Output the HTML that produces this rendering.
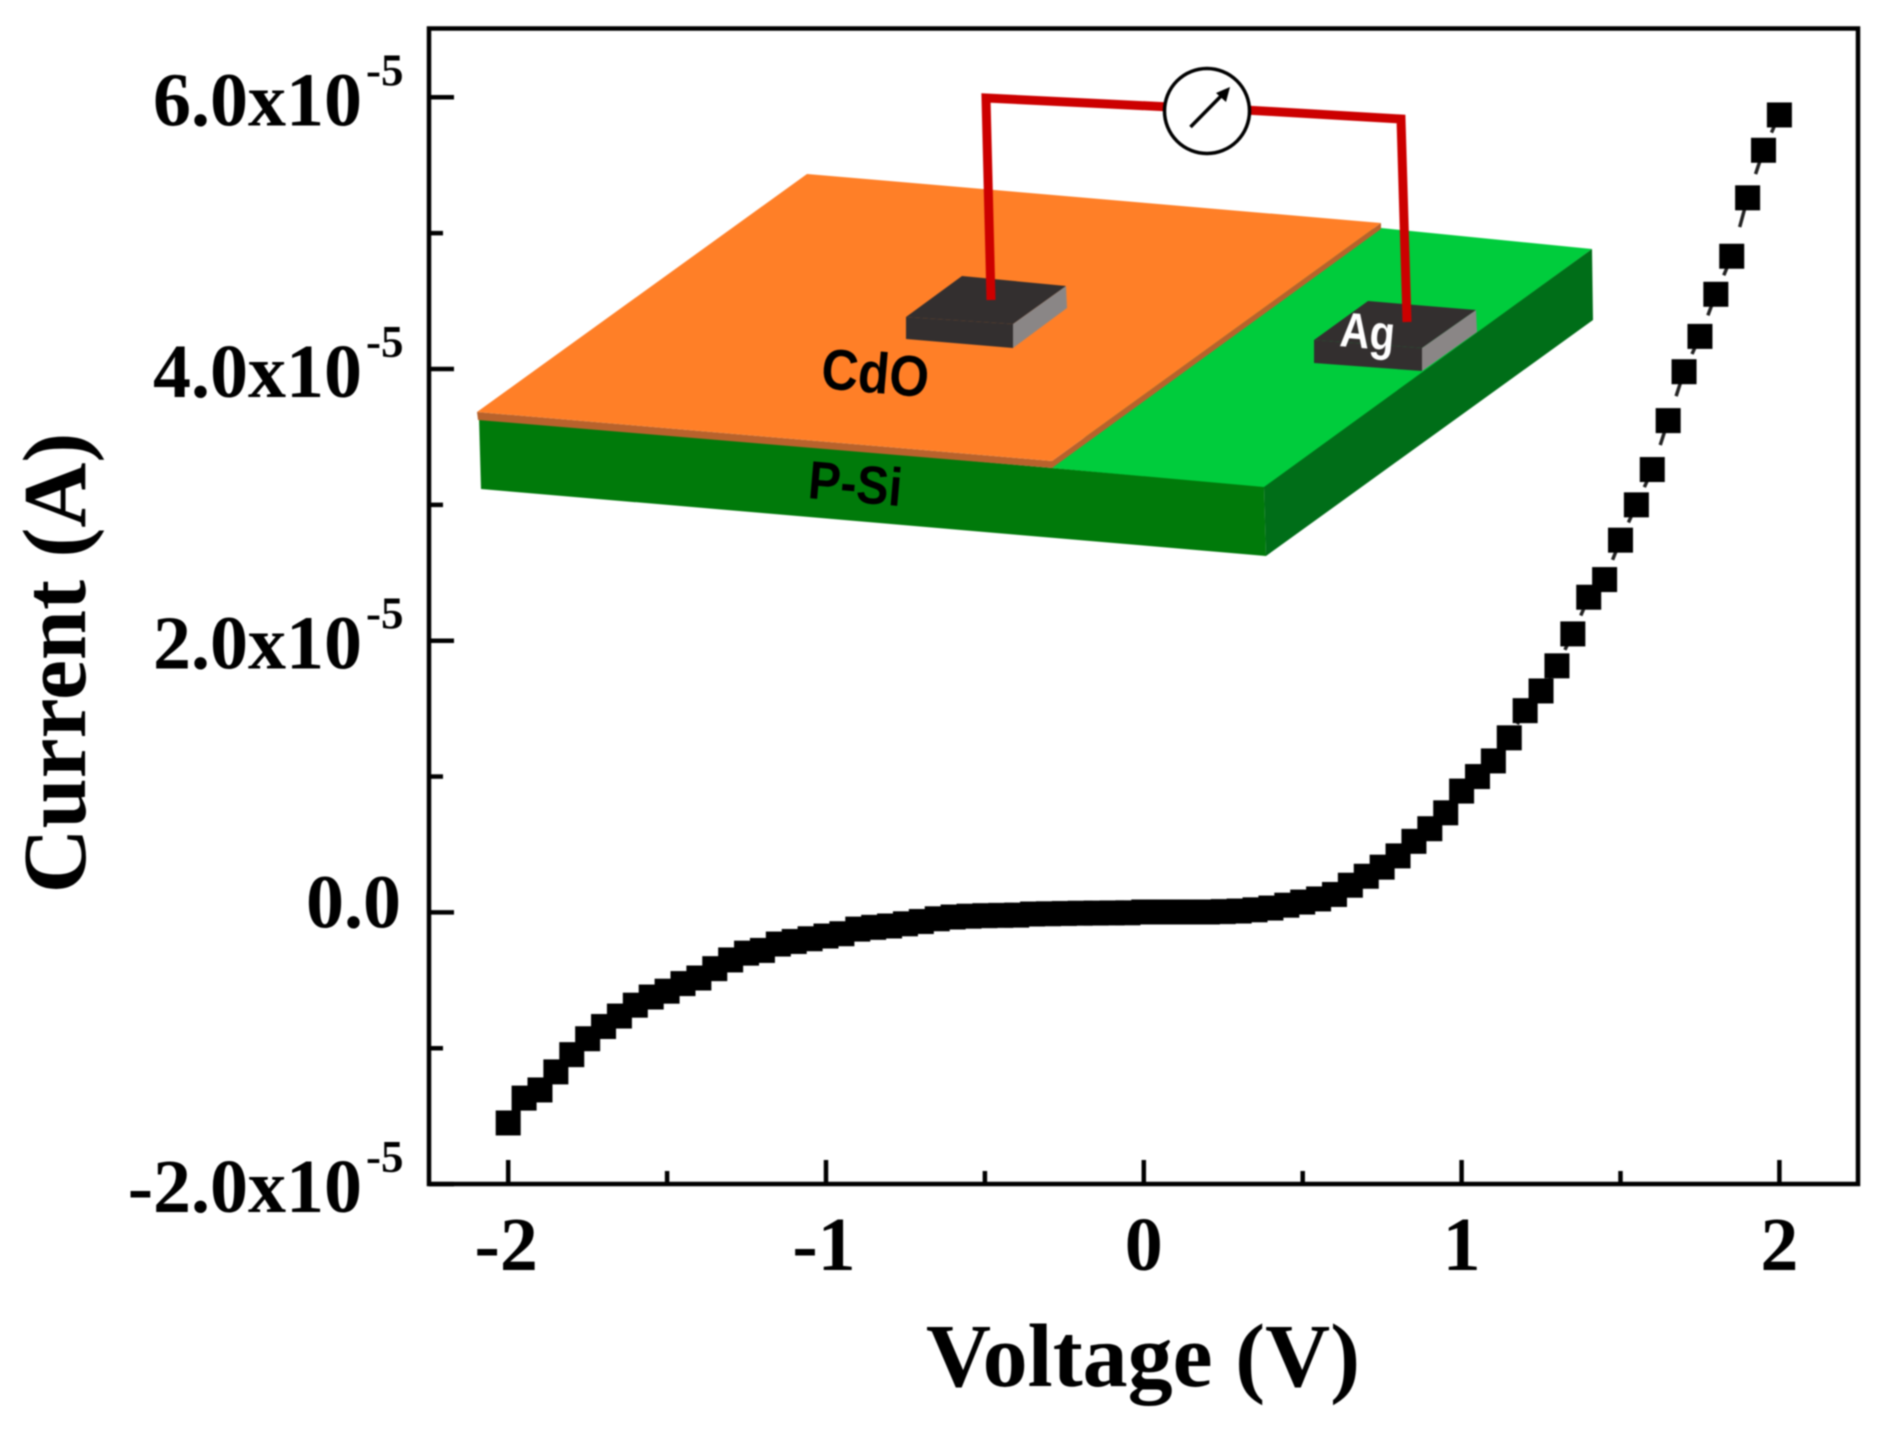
<!DOCTYPE html>
<html lang="en">
<head>
<meta charset="utf-8">
<title>CdO / P-Si I-V curve</title>
<style>
  html, body { margin: 0; padding: 0; background: #fff; }
  #chart { display: block; width: 1893px; height: 1430px; filter: blur(0.7px); }
  .tick-text { font-family: "Liberation Serif", serif; font-weight: bold; fill: #000; }
  .inset-text { font-family: "Liberation Sans", sans-serif; font-weight: bold; }
</style>
</head>
<body>
<svg id="chart" xmlns="http://www.w3.org/2000/svg" width="1893" height="1430" viewBox="0 0 1893 1430">
  <rect x="0" y="0" width="1893" height="1430" fill="#ffffff"/>

  <g id="inset">
    <polygon points="1052,468 1300,235 1381,228 1592,249 1264,488" fill="#00cc3c"/>
    <polygon points="479,418 1052,468 1264,487 1266,556 481,489" fill="#007a0a"/>
    <polygon points="1264,487 1592,249 1593,320 1266,556" fill="#006e18"/>
    <polygon points="477,412 1052,461 1381,223 1381,229 1052,468 478,420" fill="#b8622c"/>
    <polygon points="477,412 807,174 1381,223 1052,461" fill="#ff7f27"/>

    <polygon points="906,317 962,276 1066,286 1013,324" fill="#332f2f"/>
    <polygon points="906,317 1013,324 1013,348 906,339" fill="#332f2f"/>
    <polygon points="1013,324 1066,286 1067,308 1013,348" fill="#8a8686"/>

    <polygon points="1314,340 1368,301 1476,310 1422,348" fill="#332f2f"/>
    <polygon points="1314,340 1422,348 1422,371 1314,363" fill="#332f2f"/>
    <polygon points="1422,348 1476,310 1477,332 1422,371" fill="#8a8686"/>

    <polyline points="991,300 986,98 1170,107" fill="none" stroke="#cc0000" stroke-width="9"/>
    <polyline points="1245,110 1401,119 1407,322" fill="none" stroke="#cc0000" stroke-width="9"/>
    <circle cx="1207" cy="111" r="42.5" fill="#ffffff" stroke="#000000" stroke-width="3.5"/>
    <line x1="1190.5" y1="127" x2="1224" y2="93" stroke="#000000" stroke-width="3.5"/>
    <polygon points="1230,87 1226,102 1216,93" fill="#000000"/>

    <text class="inset-text" x="0" y="0" font-size="50" fill="#000" transform="translate(820,388) rotate(5) scale(1.02,1.15)">CdO</text>
    <text class="inset-text" x="0" y="0" font-size="46" fill="#000" transform="translate(807,498) rotate(5) scale(1.05,1.17)">P-Si</text>
    <text class="inset-text" x="0" y="0" font-size="41" fill="#fff" transform="translate(1339,346) rotate(5) scale(1,1.2)">Ag</text>
  </g>

  <g id="axes"></g>
  <g id="series"></g>

  <text class="tick-text" x="1143" y="1386" font-size="90" text-anchor="middle">Voltage (V)</text>
  <text class="tick-text" x="0" y="0" font-size="90" text-anchor="middle" transform="translate(85,663) rotate(-90)">Current (A)</text>
</svg>

<script>
const voltages = [-2,-1.95,-1.9,-1.85,-1.8,-1.75,-1.7,-1.65,-1.6,-1.55,-1.5,-1.45,-1.4,-1.35,-1.3,-1.25,-1.2,-1.15,-1.1,-1.05,-1,-0.95,-0.9,-0.85,-0.8,-0.75,-0.7,-0.65,-0.6,-0.55,-0.5,-0.45,-0.4,-0.35,-0.3,-0.25,-0.2,-0.15,-0.1,-0.05,0,0.05,0.1,0.15,0.2,0.25,0.3,0.35,0.4,0.45,0.5,0.55,0.6,0.65,0.7,0.75,0.8,0.85,0.9,0.95,1,1.05,1.1,1.15,1.2,1.25,1.3,1.35,1.4,1.45,1.5,1.55,1.6,1.65,1.7,1.75,1.8,1.85,1.9,1.95,2];
const currents = [-1.55,-1.367,-1.307,-1.174,-1.047,-0.93,-0.84,-0.763,-0.683,-0.623,-0.58,-0.524,-0.483,-0.414,-0.35,-0.3,-0.28,-0.233,-0.214,-0.194,-0.174,-0.157,-0.123,-0.11,-0.1,-0.084,-0.067,-0.047,-0.034,-0.028,-0.024,-0.022,-0.02,-0.012,-0.01,-0.008,-0.006,-0.005,-0.004,-0.003,0.003,0.003,0.003,0.003,0.003,0.006,0.01,0.019,0.032,0.053,0.076,0.099,0.132,0.2,0.266,0.333,0.416,0.523,0.616,0.733,0.893,1,1.115,1.285,1.485,1.63,1.815,2.05,2.32,2.45,2.74,3,3.26,3.62,3.98,4.24,4.55,4.83,5.26,5.61,5.87];
const xMajorTicks = [-2,-1,0,1,2];
const xMinorTicks = [-1.5,-0.5,0.5,1.5];
const xTickLabels = ["-2","-1","0","1","2"];
const yMajorTicks = [-2,0,2,4,6];
const yMinorTicks = [-1,1,3,5];
const yTickLabels = ["-2.0x10","0.0","2.0x10","4.0x10","6.0x10"];
const yTickExponents = ["-5","","-5","-5","-5"];

const SVGNS = "http://www.w3.org/2000/svg";
const frame = { left: 429, right: 1858, top: 28.5, bottom: 1184 };
function xScale(v) { return 1143.8 + v * 317.8; }
function yScale(c) { return 912.4 - c * 135.85; }

function make(tag, attrs, parent) {
  const el = document.createElementNS(SVGNS, tag);
  for (const k in attrs) el.setAttribute(k, attrs[k]);
  parent.appendChild(el);
  return el;
}

const axes = document.getElementById("axes");
const series = document.getElementById("series");

const frameRect = make("rect", { x: frame.left, y: frame.top, width: frame.right - frame.left, height: frame.bottom - frame.top, fill: "none", stroke: "#000", "stroke-width": 4.5 }, axes);



xMajorTicks.forEach(function (v, i) {
  const t = make("line", { x1: xScale(v), x2: xScale(v), y1: frame.bottom, y2: frame.bottom - 24, stroke: "#000", "stroke-width": 4.5 }, axes);
  
  
  const label = make("text", { x: xScale(v) - (xTickLabels[i].length > 1 ? 2 : 0), y: 1270, "font-size": 76, "text-anchor": "middle", class: "tick-text" }, axes);
  label.textContent = xTickLabels[i];
  
  
});

xMinorTicks.forEach(function (v) {
  const t = make("line", { x1: xScale(v), x2: xScale(v), y1: frame.bottom, y2: frame.bottom - 13, stroke: "#000", "stroke-width": 4.5 }, axes);
  
  
});

yMajorTicks.forEach(function (c, i) {
  const y = yScale(c);
  const t = make("line", { x1: frame.left, x2: frame.left + 25, y1: y, y2: y, stroke: "#000", "stroke-width": 4.5 }, axes);
  
  
  const hasExp = yTickExponents[i] !== "";
  const label = make("text", { x: hasExp ? 362 : 401, y: y + (hasExp ? 28 : 15), "font-size": 76, "text-anchor": "end", class: "tick-text" }, axes);
  label.textContent = yTickLabels[i];
  
  
  if (hasExp) {
    const sup = make("text", { x: 366, y: y - 12, "font-size": 45, class: "tick-text" }, axes);
    sup.textContent = yTickExponents[i];
    
    
  }
});

yMinorTicks.forEach(function (c) {
  const t = make("line", { x1: frame.left, x2: frame.left + 14, y1: yScale(c), y2: yScale(c), stroke: "#000", "stroke-width": 4.5 }, axes);
  
  
});

/* Connecting line: only the half of each segment hanging below the upper marker shows in the reference. */
voltages.slice(1).forEach(function (v, k) {
  const x2 = xScale(v);
  const y2 = yScale(currents[k + 1]);
  const x1 = xScale(voltages[k]);
  const y1 = yScale(currents[k]);
  const seg = make("line", { x1: x2, y1: y2, x2: (x1 + x2) / 2, y2: (y1 + y2) / 2, stroke: "#222", "stroke-width": 3.5 }, series);
  
  
});

voltages.forEach(function (v, i) {
  const size = 25;
  const m = make("rect", { x: xScale(v) - size / 2, y: yScale(currents[i]) - size / 2, width: size, height: size, fill: "#000" }, series);
  
  
});
</script>
</body>
</html>
